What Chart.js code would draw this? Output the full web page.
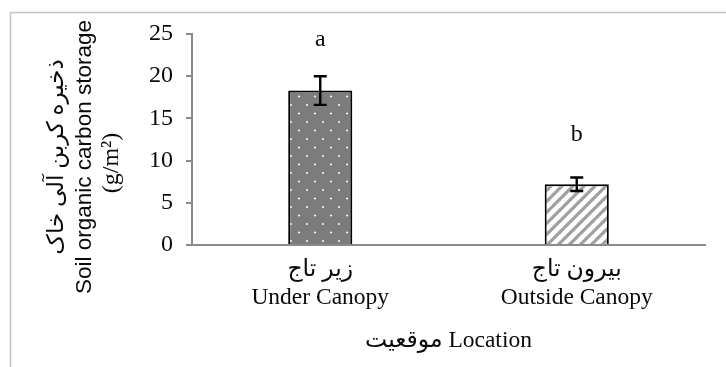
<!DOCTYPE html>
<html>
<head>
<meta charset="utf-8">
<script src="https://cdn.jsdelivr.net/npm/chart.js@4.4.1/dist/chart.umd.min.js"></script>
<style>
  html, body { margin: 0; padding: 0; background: #ffffff; }
  #wrap { width: 726px; height: 367px; position: relative; }
</style>
</head>
<body>
<div id="wrap"><canvas id="chart" width="726" height="367"></canvas></div>
<script>
// Soil organic carbon storage by sampling location
const categories = [['زیر تاج', 'Under Canopy'], ['بیرون تاج', 'Outside Canopy']];
const carbonStorage = [18.3, 7.2];
const standardError = [1.7, 0.8];
const significance = ['a', 'b'];
const yTitleLines = ['ذخیره کربن آلی خاک', 'Soil organic carbon storage', '(g/m²)'];
const xTitle = 'موقعیت Location';

const SERIF = "'Liberation Serif', 'DejaVu Sans', serif";
const SANS = "'Liberation Sans', 'DejaVu Sans', sans-serif";
const AXIS_GREY = '#8a8a8a';
const TEXT = '#0a0a0a';

// Fill patterns: dotted dark grey and light diagonal hatching
function dotPattern() {
  const c = document.createElement('canvas');
  c.width = 16; c.height = 17;
  const g = c.getContext('2d');
  g.fillStyle = '#7c7c7c';
  g.fillRect(0, 0, 16, 17);
  g.fillStyle = '#f2f2f2';
  [[3, 3], [11, 11.5]].forEach(([x, y]) => {
    g.beginPath(); g.arc(x, y, 1.1, 0, Math.PI * 2); g.fill();
  });
  return g.createPattern(c, 'repeat');
}
function hatchPattern() {
  const s = 11;
  const c = document.createElement('canvas');
  c.width = s; c.height = s;
  const g = c.getContext('2d');
  g.fillStyle = '#ffffff';
  g.fillRect(0, 0, s, s);
  g.strokeStyle = '#a0a0a0';
  g.lineWidth = 3.3;
  [[0, s, s, 0], [-s / 2, s / 2, s / 2, -s / 2], [s / 2, s * 1.5, s * 1.5, s / 2]].forEach(([a, b, c2, d]) => {
    g.beginPath(); g.moveTo(a, b); g.lineTo(c2, d); g.stroke();
  });
  return g.createPattern(c, 'repeat');
}

// Light frame around the figure
const framePlugin = {
  id: 'frame',
  beforeDraw(chart) {
    const ctx = chart.ctx;
    ctx.save();
    ctx.strokeStyle = '#c4c4c4';
    ctx.lineWidth = 1.5;
    ctx.beginPath();
    ctx.moveTo(10.5, chart.height);
    ctx.lineTo(10.5, 12.5);
    ctx.lineTo(chart.width, 12.5);
    ctx.stroke();
    ctx.restore();
  }
};

// Error bars and significance letters above each bar
const letterGap = [36, 43];
const errorPlugin = {
  id: 'errorBars',
  afterDatasetsDraw(chart) {
    const ctx = chart.ctx;
    const y = chart.scales.y;
    const meta = chart.getDatasetMeta(0);
    ctx.save();
    ctx.strokeStyle = '#000000';
    ctx.lineWidth = 2.4;
    meta.data.forEach((bar, i) => {
      const v = carbonStorage[i], e = standardError[i];
      const top = y.getPixelForValue(v + e);
      const bot = y.getPixelForValue(v - e);
      const x = bar.x;
      ctx.beginPath();
      ctx.moveTo(x, top); ctx.lineTo(x, bot);
      ctx.moveTo(x - 6.5, top); ctx.lineTo(x + 6.5, top);
      ctx.moveTo(x - 6.5, bot); ctx.lineTo(x + 6.5, bot);
      ctx.stroke();
      ctx.fillStyle = TEXT;
      ctx.font = '24px ' + SERIF;
      ctx.textAlign = 'center';
      ctx.textBaseline = 'middle';
      ctx.fillText(significance[i], x, top - letterGap[i]);
    });
    ctx.restore();
  }
};

// Three-line rotated y-axis title (Persian, English, unit)
const yTitlePlugin = {
  id: 'yTitle',
  afterDraw(chart) {
    const ctx = chart.ctx;
    const specs = [
      { x: 57, cy: 157, font: '23px ' + SERIF },
      { x: 85, cy: 157, font: '22.5px ' + SANS },
      { x: 112, cy: 163, font: '24px ' + SERIF }
    ];
    ctx.save();
    ctx.fillStyle = TEXT;
    ctx.textAlign = 'center';
    ctx.textBaseline = 'middle';
    specs.forEach((s, i) => {
      ctx.save();
      ctx.translate(s.x, s.cy);
      ctx.rotate(-Math.PI / 2);
      ctx.font = s.font;
      ctx.fillText(yTitleLines[i], 0, 0);
      ctx.restore();
    });
    ctx.restore();
  }
};

new Chart(document.getElementById('chart'), {
  type: 'bar',
  data: {
    labels: categories,
    datasets: [{
      data: carbonStorage,
      backgroundColor: [dotPattern(), hatchPattern()],
      borderColor: '#000000',
      borderWidth: 2,
      borderSkipped: 'start',
      barPercentage: 0.25,
      categoryPercentage: 1.0
    }]
  },
  options: {
    responsive: false,
    animation: false,
    layout: { padding: { left: 0, right: 21, top: 34, bottom: 0 } },
    plugins: { legend: { display: false }, tooltip: { enabled: false } },
    scales: {
      x: {
        z: 1,
        grid: { display: false, drawTicks: false },
        border: { display: true, color: AXIS_GREY, width: 2 },
        ticks: {
          color: TEXT,
          font: { family: SERIF, size: 23.5, lineHeight: 1.2 },
          padding: 11,
          maxRotation: 0,
          autoSkip: false
        },
        title: {
          display: true,
          text: xTitle,
          color: TEXT,
          font: { family: SERIF, size: 23.5 },
          padding: { top: 0, bottom: 12 }
        },
        afterFit(scale) { scale.height = 122; }
      },
      y: {
        min: 0,
        max: 25,
        ticks: {
          stepSize: 5,
          color: TEXT,
          font: { family: SERIF, size: 24 },
          padding: 13
        },
        grid: {
          drawOnChartArea: false,
          drawTicks: true,
          tickLength: 6,
          color: AXIS_GREY,
          lineWidth: 2
        },
        border: { display: true, color: AXIS_GREY, width: 2 },
        afterFit(scale) { scale.width = 192; }
      }
    }
  },
  plugins: [framePlugin, errorPlugin, yTitlePlugin]
});
</script>
</body>
</html>
